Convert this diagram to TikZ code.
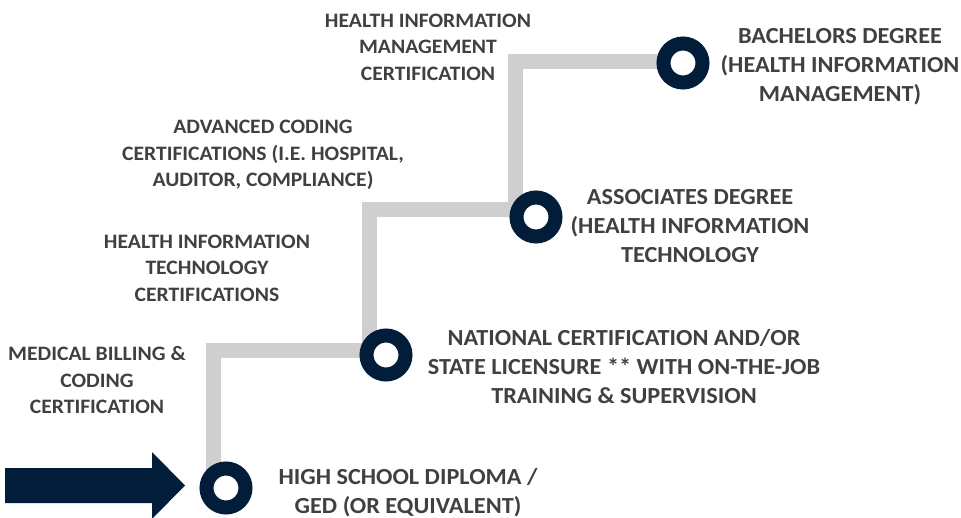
\documentclass[tikz,border=0pt]{standalone}
\usepackage{fontspec}
\setmainfont{Carlito}[FakeStretch=1.055]
\usepackage{tikz}
\usetikzlibrary{backgrounds}
\definecolor{navy}{RGB}{2,29,58}
\definecolor{trackgray}{RGB}{208,206,206}
\definecolor{textgray}{RGB}{64,64,64}
\newcommand{\bigstep}{\fontsize{23pt}{29pt}\selectfont\bfseries}
\newcommand{\smallstep}{\fontsize{20.5pt}{26.5pt}\selectfont\bfseries}
\tikzset{
    stop/.style={draw=navy, circle, fill=white, line width=14pt, minimum size=39pt, inner sep=0pt},
    track/.style={draw=trackgray, line width=15pt, line join=miter},
    degree/.style={align=center, text=textgray, font=\bigstep, inner sep=0pt},
    cert/.style={align=center, text=textgray, font=\smallstep, inner sep=0pt}
}

\begin{document}
\begin{tikzpicture}[x=1pt, y=-1pt]
    \useasboundingbox (0,0) rectangle (961,518);

    % stops on the ladder
    \node[stop] (hs) at (226,488) {};
    \node[stop] (lic) at (386,355) {};
    \node[stop] (assoc) at (536,217) {};
    \node[stop] (bach) at (683,63) {};

    \begin{pgfonlayer}{background}
        \draw[track] ([xshift=-13pt]hs.center) |- ([yshift=4pt]lic.center);
        \draw[track] ([xshift=-17pt]lic.center) |- ([yshift=7pt]assoc.center);
        \draw[track] ([xshift=-21pt]assoc.center) |- ([yshift=1pt]bach.center);
    \end{pgfonlayer}

    % entry arrow
    \fill[navy] (5,468) -- (152,468) -- (152,452) -- (185,485.5)
        -- (152,519) -- (152,503) -- (5,503) -- cycle;

    % degrees
    \node[degree] (hs-text) at (408,493) {HIGH SCHOOL DIPLOMA /\\GED (OR EQUIVALENT)};
    \node[degree] (lic-text) at (624,367) {NATIONAL CERTIFICATION AND/OR\\STATE LICENSURE ** WITH ON-THE-JOB\\TRAINING \& SUPERVISION};
    \node[degree] (assoc-text) at (690,226) {ASSOCIATES DEGREE\\(HEALTH INFORMATION\\TECHNOLOGY};
    \node[degree] (bach-text) at (840,67) {BACHELORS DEGREE\\(HEALTH INFORMATION\\MANAGEMENT)};

    % certifications
    \node[cert] (billing) at (97,380) {MEDICAL BILLING \&\\CODING\\CERTIFICATION};
    \node[cert] (hit) at (207,268) {HEALTH INFORMATION\\TECHNOLOGY\\CERTIFICATIONS};
    \node[cert] (coding) at (263,155) {ADVANCED CODING\\CERTIFICATIONS (I.E. HOSPITAL,\\AUDITOR, COMPLIANCE)};
    \node[cert] (him) at (428,47) {HEALTH INFORMATION\\MANAGEMENT\\CERTIFICATION};
\end{tikzpicture}
\end{document}
